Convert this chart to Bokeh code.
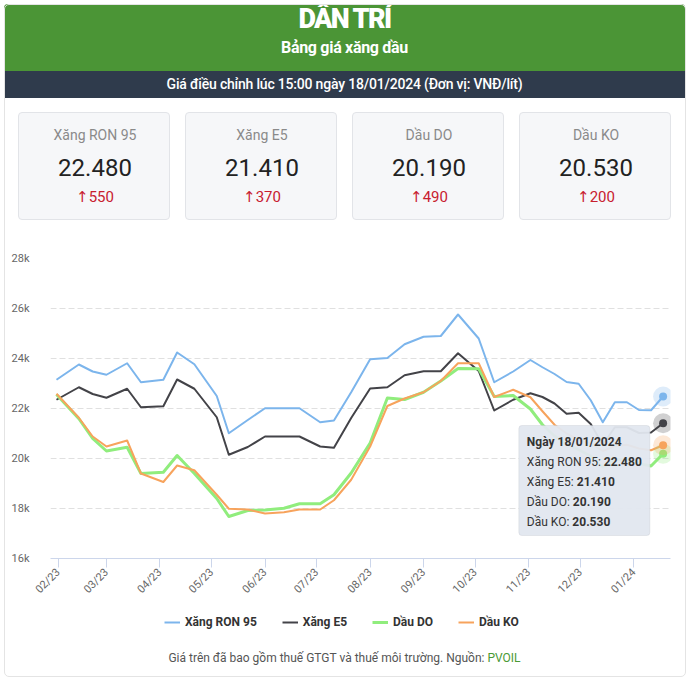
import math
import pandas as pd
from bokeh.plotting import figure
from bokeh.models import (Range1d, MonthsTicker, DatetimeTickFormatter, SingleIntervalTicker,
                          CustomJSTickFormatter, Legend, LegendItem, BoxAnnotation, Label, Div, Column)
from bokeh.embed import file_html
from bokeh.resources import INLINE

# ---------------- data ----------------
dates = ["2023-01-31", "2023-02-13", "2023-02-21", "2023-03-01", "2023-03-13", "2023-03-21",
         "2023-04-03", "2023-04-11", "2023-04-21", "2023-05-04", "2023-05-11", "2023-05-22",
         "2023-06-01", "2023-06-12", "2023-06-21", "2023-07-03", "2023-07-11", "2023-07-21",
         "2023-08-01", "2023-08-11", "2023-08-21", "2023-09-01", "2023-09-11", "2023-09-21",
         "2023-10-03", "2023-10-12", "2023-10-23", "2023-11-02", "2023-11-09", "2023-11-16",
         "2023-11-23", "2023-11-30", "2023-12-07", "2023-12-14", "2023-12-21", "2023-12-28",
         "2024-01-04", "2024-01-11", "2024-01-18"]

ron95 = [23150, 23760, 23480, 23350, 23810, 23050, 23150, 24240, 23770, 22500, 21010, 21540,
         22010, 22010, 22010, 21450, 21520, 22650, 23970, 24020, 24570, 24870, 24900, 25760,
         24800, 23050, 23480, 23940, 23650, 23380, 23060, 22990, 22330, 21450, 22250, 22250,
         21940, 21930, 22480]
e5 = [22350, 22850, 22580, 22430, 22790, 22050, 22090, 23160, 22790, 21650, 20150, 20460,
      20880, 20880, 20880, 20480, 20430, 21620, 22800, 22850, 23330, 23490, 23490, 24210,
      23500, 21920, 22350, 22610, 22460, 22200, 21790, 21830, 21380, 20550, 21250, 21250,
      21020, 21040, 21410]
do = [22560, 21590, 20800, 20300, 20450, 19400, 19450, 20120, 19400, 18400, 17680, 17920,
      17940, 18010, 18190, 18190, 18550, 19420, 20620, 22420, 22360, 22650, 23100, 23600,
      23590, 22480, 22520, 21980, 21350, 20900, 20580, 20350, 20100, 19650, 19950, 19950,
      19800, 19700, 20190]
ko = [22590, 21630, 20880, 20480, 20720, 19400, 19060, 19720, 19530, 18550, 17990, 17960,
      17800, 17850, 17960, 17960, 18330, 19150, 20480, 22100, 22400, 22650, 23100, 23810,
      23810, 22460, 22750, 22450, 21890, 21350, 21000, 20750, 20600, 20300, 20500, 20550,
      20400, 20330, 20530]

series_names = ["Xăng RON 95", "Xăng E5", "Dầu DO", "Dầu KO"]
card_prices = ["22.480", "21.410", "20.190", "20.530"]
card_changes = ["550", "370", "490", "200"]
y_ticks = [16000, 18000, 20000, 22000, 24000, 26000, 28000]

colors = ["#7cb5ec", "#434348", "#90ed7d", "#f7a35c"]
widths = [2, 2, 3, 2]
FONT = "Roboto"

x = pd.to_datetime(dates)
all_series = [ron95, e5, do, ko]

# ---------------- chart figure ----------------
x_start = pd.Timestamp("2023-02-01") - pd.Timedelta(days=4.47)
x_end = x_start + pd.Timedelta(days=359.76)

p = figure(width=685, height=373, x_axis_type="datetime", output_backend="svg",
           toolbar_location=None, min_border_left=50, min_border_right=15,
           min_border_top=28, min_border_bottom=45,
           x_range=Range1d(x_start, x_end), y_range=Range1d(y_ticks[0], y_ticks[-1]))
p.outline_line_color = None
p.background_fill_color = "white"
p.border_fill_color = "white"

for vals, c, w in zip(all_series, colors, widths):
    p.line(x, vals, line_color=c, line_width=w, line_join="round")

for vals, c in zip(all_series, colors):
    p.scatter([x[-1]], [vals[-1]], size=20, fill_color=c, fill_alpha=0.25, line_color=None)
    p.scatter([x[-1]], [vals[-1]], size=8, fill_color=c, line_color=None)

p.xaxis.ticker = MonthsTicker(months=list(range(12)))
p.xaxis.formatter = DatetimeTickFormatter(days="%m/%y", months="%m/%y", years="%m/%y")
p.xaxis.major_label_orientation = math.pi / 4
p.xaxis.axis_line_color = "#ccd6eb"
p.xaxis.major_tick_line_color = "#ccd6eb"
p.xaxis.major_tick_out = 9
p.xaxis.major_tick_in = 0
p.xaxis.minor_tick_line_color = None
p.xaxis.major_label_text_font = FONT
p.xaxis.major_label_text_font_size = "11px"
p.xaxis.major_label_text_color = "#666666"
p.xaxis.major_label_standoff = 3

p.yaxis.ticker = SingleIntervalTicker(interval=2000)
p.yaxis.formatter = CustomJSTickFormatter(code="return (tick/1000) + 'k';")
p.yaxis.axis_line_color = None
p.yaxis.major_tick_line_color = None
p.yaxis.minor_tick_line_color = None
p.yaxis.major_label_standoff = 15
p.yaxis.major_label_text_font = FONT
p.yaxis.major_label_text_font_size = "11px"
p.yaxis.major_label_text_color = "#666666"

p.xgrid.grid_line_color = None
p.ygrid.grid_line_color = "#e0e0e0"
p.ygrid.grid_line_dash = "6 3"

# tooltip (static, hover state at last point)
last = x[-1]
tt_left = last - pd.Timedelta(days=83.7)
tt_right = last - pd.Timedelta(days=7.7)
to_ms = lambda t: t.value / 1e6
tt_top, tt_bottom = 21320, 16920
p.add_layout(BoxAnnotation(left=to_ms(tt_left), right=to_ms(tt_right), top=tt_top, bottom=tt_bottom,
                           fill_color="#e2e7ef", fill_alpha=0.95, line_color="#bcc1c8",
                           line_width=1, border_radius=3, level="overlay"))

def fmt(v):
    return f"{v:,}".replace(",", ".")

d = last
header = f"Ngày {d.day:02d}/{d.month:02d}/{d.year}"
p.add_layout(Label(x=to_ms(tt_left), y=tt_top, x_offset=8, y_offset=-16, text=header,
                   text_font=FONT, text_font_size="12px", text_font_style="bold",
                   text_color="#333333", text_baseline="middle", level="overlay"))
val_offsets = [85, 58, 54, 53.5]
for i, (n, vals) in enumerate(zip(series_names, all_series)):
    yo = -36 - 20 * i
    p.add_layout(Label(x=to_ms(tt_left), y=tt_top, x_offset=8, y_offset=yo, text=n + ":",
                       text_font=FONT, text_font_size="12px", text_color="#333333",
                       text_baseline="middle", level="overlay"))
    p.add_layout(Label(x=to_ms(tt_left), y=tt_top, x_offset=val_offsets[i], y_offset=yo,
                       text=fmt(vals[-1]), text_font=FONT, text_font_size="12px",
                       text_font_style="bold", text_color="#333333",
                       text_baseline="middle", level="overlay"))

# ---------------- legend strip (bokeh legend) ----------------
# same series drawn in a strip whose y-range excludes them, so only the legend shows
pl = figure(width=685, height=37, output_backend="svg", toolbar_location=None,
            min_border=0, x_axis_location=None, y_axis_location=None,
            x_range=Range1d(x_start, x_end), y_range=Range1d(0, 1))
pl.outline_line_color = None
pl.grid.grid_line_color = None
leg_renderers = [pl.line(x, vals, line_color=c, line_width=w)
                 for vals, c, w in zip(all_series, colors, widths)]
legend = Legend(items=[LegendItem(label=n, renderers=[r]) for n, r in zip(series_names, leg_renderers)],
                orientation="horizontal", location=(114, 8),
                label_text_font=FONT, label_text_font_style="bold", label_text_font_size="12px",
                label_text_color="#333333", glyph_width=16, glyph_height=16, label_standoff=5,
                label_height=20, spacing=25, border_line_color=None, background_fill_alpha=0,
                padding=0, margin=0)
pl.add_layout(legend)

# ---------------- header & cards ----------------
card_lefts = [18, 185, 352, 519]
cards_html = ""
for left, name, price, ch in zip(card_lefts, series_names, card_prices, card_changes):
    cards_html += f"""
<div style="position:absolute;left:{left}px;top:112px;width:152px;height:108px;background:#f6f7f9;
 border:1px solid #e2e4e8;border-radius:4px;">
  <div style="position:absolute;left:0;top:13px;width:152px;line-height:18px;text-align:center;
   font-size:14px;color:#8a8a8a;">{name}</div>
  <div style="position:absolute;left:0;top:40px;width:152px;line-height:30px;text-align:center;
   font-size:24px;color:#222;">{price}</div>
  <div style="position:absolute;left:0;top:74px;width:152px;line-height:20px;text-align:center;
   font-size:15px;color:#c8202f;"><span style="font-family:'DejaVu Sans';font-size:15px;">&#8593;</span>{ch}</div>
</div>"""

top_html = f"""
<div style="position:relative;width:685px;height:230px;font-family:Roboto,sans-serif;">
 <div style="position:absolute;left:4px;top:4px;width:681px;height:67px;background:#4b9536;border-radius:4px 4px 0 0;"></div>
 <div style="position:absolute;left:4px;top:5px;width:681px;line-height:28px;text-align:center;color:#fff;
   font-weight:900;font-size:27px;letter-spacing:-1.6px;">DÂN TRÍ</div>
 <div style="position:absolute;left:4px;top:37px;width:681px;line-height:22px;text-align:center;color:#fff;
   font-weight:700;font-size:16px;letter-spacing:-0.3px;">Bảng giá xăng dầu</div>
 <div style="position:absolute;left:4px;top:71px;width:681px;height:27px;background:#2f3b4c;"></div>
 <div style="position:absolute;left:4px;top:74px;width:681px;line-height:20px;text-align:center;color:#fff;
   font-weight:500;font-size:14px;letter-spacing:-0.2px;">Giá điều chỉnh lúc 15:00 ngày 18/01/2024 (Đơn vị: VNĐ/lít)</div>
 {cards_html}
 <div style="position:absolute;left:4px;top:4px;width:682px;height:673px;box-sizing:border-box;
   border:1px solid #e4e4e4;border-radius:5px;pointer-events:none;z-index:100;"></div>
</div>"""
top_div = Div(text=top_html, width=685, height=230, margin=(0, 0, 0, 0))

foot_html = """
<div style="position:relative;width:685px;height:40px;font-family:Roboto,sans-serif;">
 <div style="position:absolute;left:4px;top:10px;width:681px;line-height:16px;text-align:center;
  font-size:12px;color:#555;">Giá trên đã bao gồm thuế GTGT và thuế môi trường. Nguồn: <span style="color:#4a9a35;">PVOIL</span></div>
</div>"""
foot_div = Div(text=foot_html, width=685, height=40, margin=(0, 0, 0, 0))

layout = Column(children=[top_div, p, pl, foot_div], spacing=0)

open("out.html", "w").write(file_html(layout, INLINE))
